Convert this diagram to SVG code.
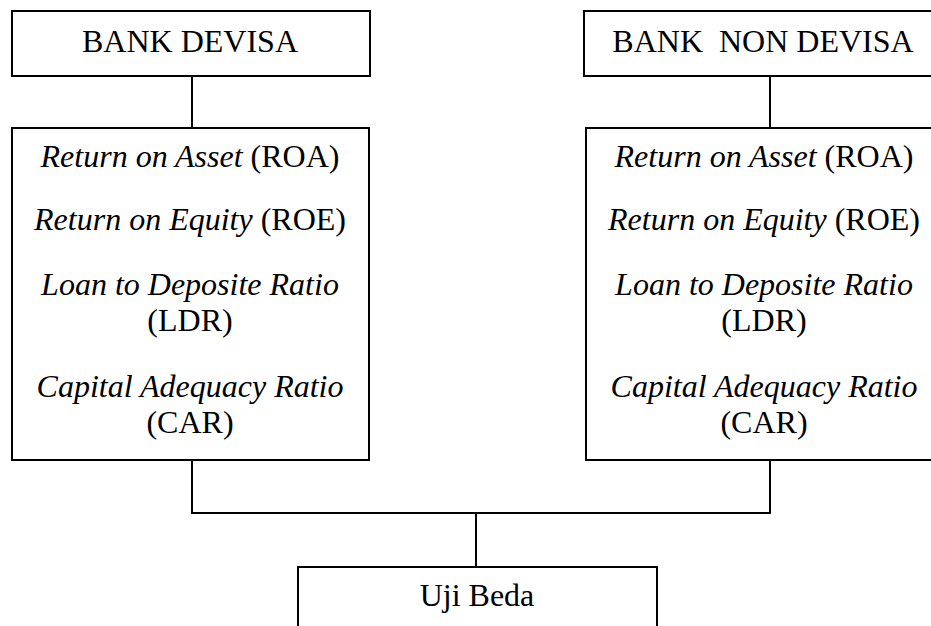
<svg xmlns="http://www.w3.org/2000/svg" width="931" height="626" viewBox="0 0 931 626">
  <style>
    .box { fill: #ffffff; stroke: #000000; stroke-width: 2; }
    .wire { fill: none; stroke: #000000; stroke-width: 2; }
    text { font-family: "Liberation Serif", "Times New Roman", serif; font-size: 32px; fill: #000000; text-anchor: middle; }
    .it { font-style: italic; }
  </style>
  <rect width="931" height="626" fill="#ffffff"/>

  <!-- connectors -->
  <g id="connectors">
    <line class="wire" x1="192" y1="76" x2="192" y2="128"/>
    <line class="wire" x1="770" y1="76" x2="770" y2="128"/>
    <polyline class="wire" points="192,460 192,513 770,513 770,460"/>
    <line class="wire" x1="476" y1="513" x2="476" y2="567"/>
  </g>

  <!-- top row -->
  <g id="bank-devisa">
    <rect class="box" x="12" y="11" width="358" height="65"/>
    <text x="190" y="52">BANK DEVISA</text>
  </g>
  <g id="bank-non-devisa">
    <rect class="box" x="584" y="11" width="360" height="65"/>
    <text x="763" y="52" xml:space="preserve">BANK  NON DEVISA</text>
  </g>

  <!-- ratio lists -->
  <g id="ratios-devisa">
    <rect class="box" x="12" y="128" width="357" height="332"/>
    <text x="190" y="167"><tspan class="it">Return on Asset</tspan> (ROA)</text>
    <text x="190" y="230"><tspan class="it">Return on Equity</tspan> (ROE)</text>
    <text x="190" y="295" class="it">Loan to Deposite Ratio</text>
    <text x="190" y="331">(LDR)</text>
    <text x="190" y="397" class="it">Capital Adequacy Ratio</text>
    <text x="190" y="433">(CAR)</text>
  </g>
  <g id="ratios-non-devisa">
    <rect class="box" x="586" y="128" width="358" height="332"/>
    <text x="764" y="167"><tspan class="it">Return on Asset</tspan> (ROA)</text>
    <text x="764" y="230"><tspan class="it">Return on Equity</tspan> (ROE)</text>
    <text x="764" y="295" class="it">Loan to Deposite Ratio</text>
    <text x="764" y="331">(LDR)</text>
    <text x="764" y="397" class="it">Capital Adequacy Ratio</text>
    <text x="764" y="433">(CAR)</text>
  </g>

  <!-- result -->
  <g id="uji-beda">
    <rect class="box" x="298" y="567" width="359" height="80"/>
    <text x="477" y="606">Uji Beda</text>
  </g>
</svg>
